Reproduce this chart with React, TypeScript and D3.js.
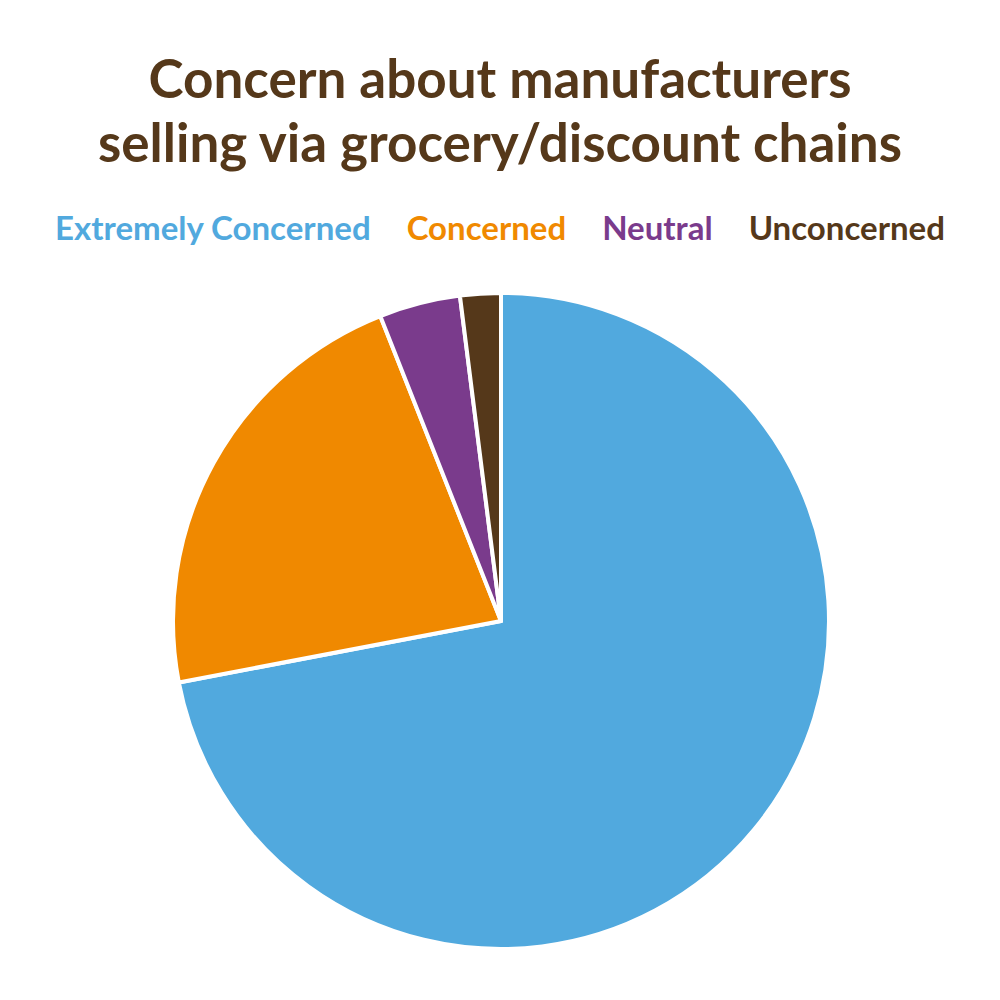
import React, { useLayoutEffect, useRef, useState } from 'react';
import * as d3 from 'd3';

const categories = ['Extremely Concerned', 'Concerned', 'Neutral', 'Unconcerned'];
const values = [72, 22, 4, 2];
const palette = ['#51a9de', '#f08900', '#7a3b8c', '#55381a'];
const titleLines = ['Concern about manufacturers', 'selling via grocery/discount chains'];

const W = 1000;
const H = 1000;
const cx = 501;
const cy = 621;
const radius = 328;
const legendGap = 36;

export default function App() {
  const legendRefs = useRef<(SVGTextElement | null)[]>([]);
  const [widths, setWidths] = useState<number[]>(categories.map(() => 0));

  useLayoutEffect(() => {
    const w = legendRefs.current.map((t) => (t ? t.getComputedTextLength() : 0));
    setWidths(w);
  }, []);

  const color = d3.scaleOrdinal<string, string>().domain(categories).range(palette);

  const pie = d3
    .pie<number>()
    .sort(null)
    .value((d) => d);
  const arcs = pie(values);
  const arcGen = d3.arc<d3.PieArcDatum<number>>().innerRadius(0).outerRadius(radius);

  // legend layout: centered row
  const total = widths.reduce((a, b) => a + b, 0) + legendGap * (categories.length - 1);
  let xPos = W / 2 - total / 2;
  const legendX = widths.map((w) => {
    const x = xPos;
    xPos += w + legendGap;
    return x;
  });

  return (
    <svg
      width={W}
      height={H}
      style={{ position: 'absolute', left: 0, top: 0, background: '#fff' }}
      fontFamily="Lato, sans-serif"
    >
      {titleLines.map((line, i) => (
        <text
          key={i}
          x={W / 2}
          y={98 + i * 64}
          textAnchor="middle"
          fontSize={53}
          fontWeight={700}
          fill="#55381a"
        >
          {line}
        </text>
      ))}

      {categories.map((c, i) => (
        <text
          key={c}
          ref={(el) => {
            legendRefs.current[i] = el;
          }}
          x={legendX[i]}
          y={240}
          fontSize={33}
          fontWeight={700}
          fill={color(c)}
        >
          {c}
        </text>
      ))}

      <g transform={`translate(${cx},${cy})`}>
        {arcs.map((a, i) => (
          <path
            key={categories[i]}
            d={arcGen(a) || ''}
            fill={color(categories[i])}
            stroke="#fff"
            strokeWidth={4}
            strokeLinejoin="round"
          />
        ))}
      </g>
    </svg>
  );
}
